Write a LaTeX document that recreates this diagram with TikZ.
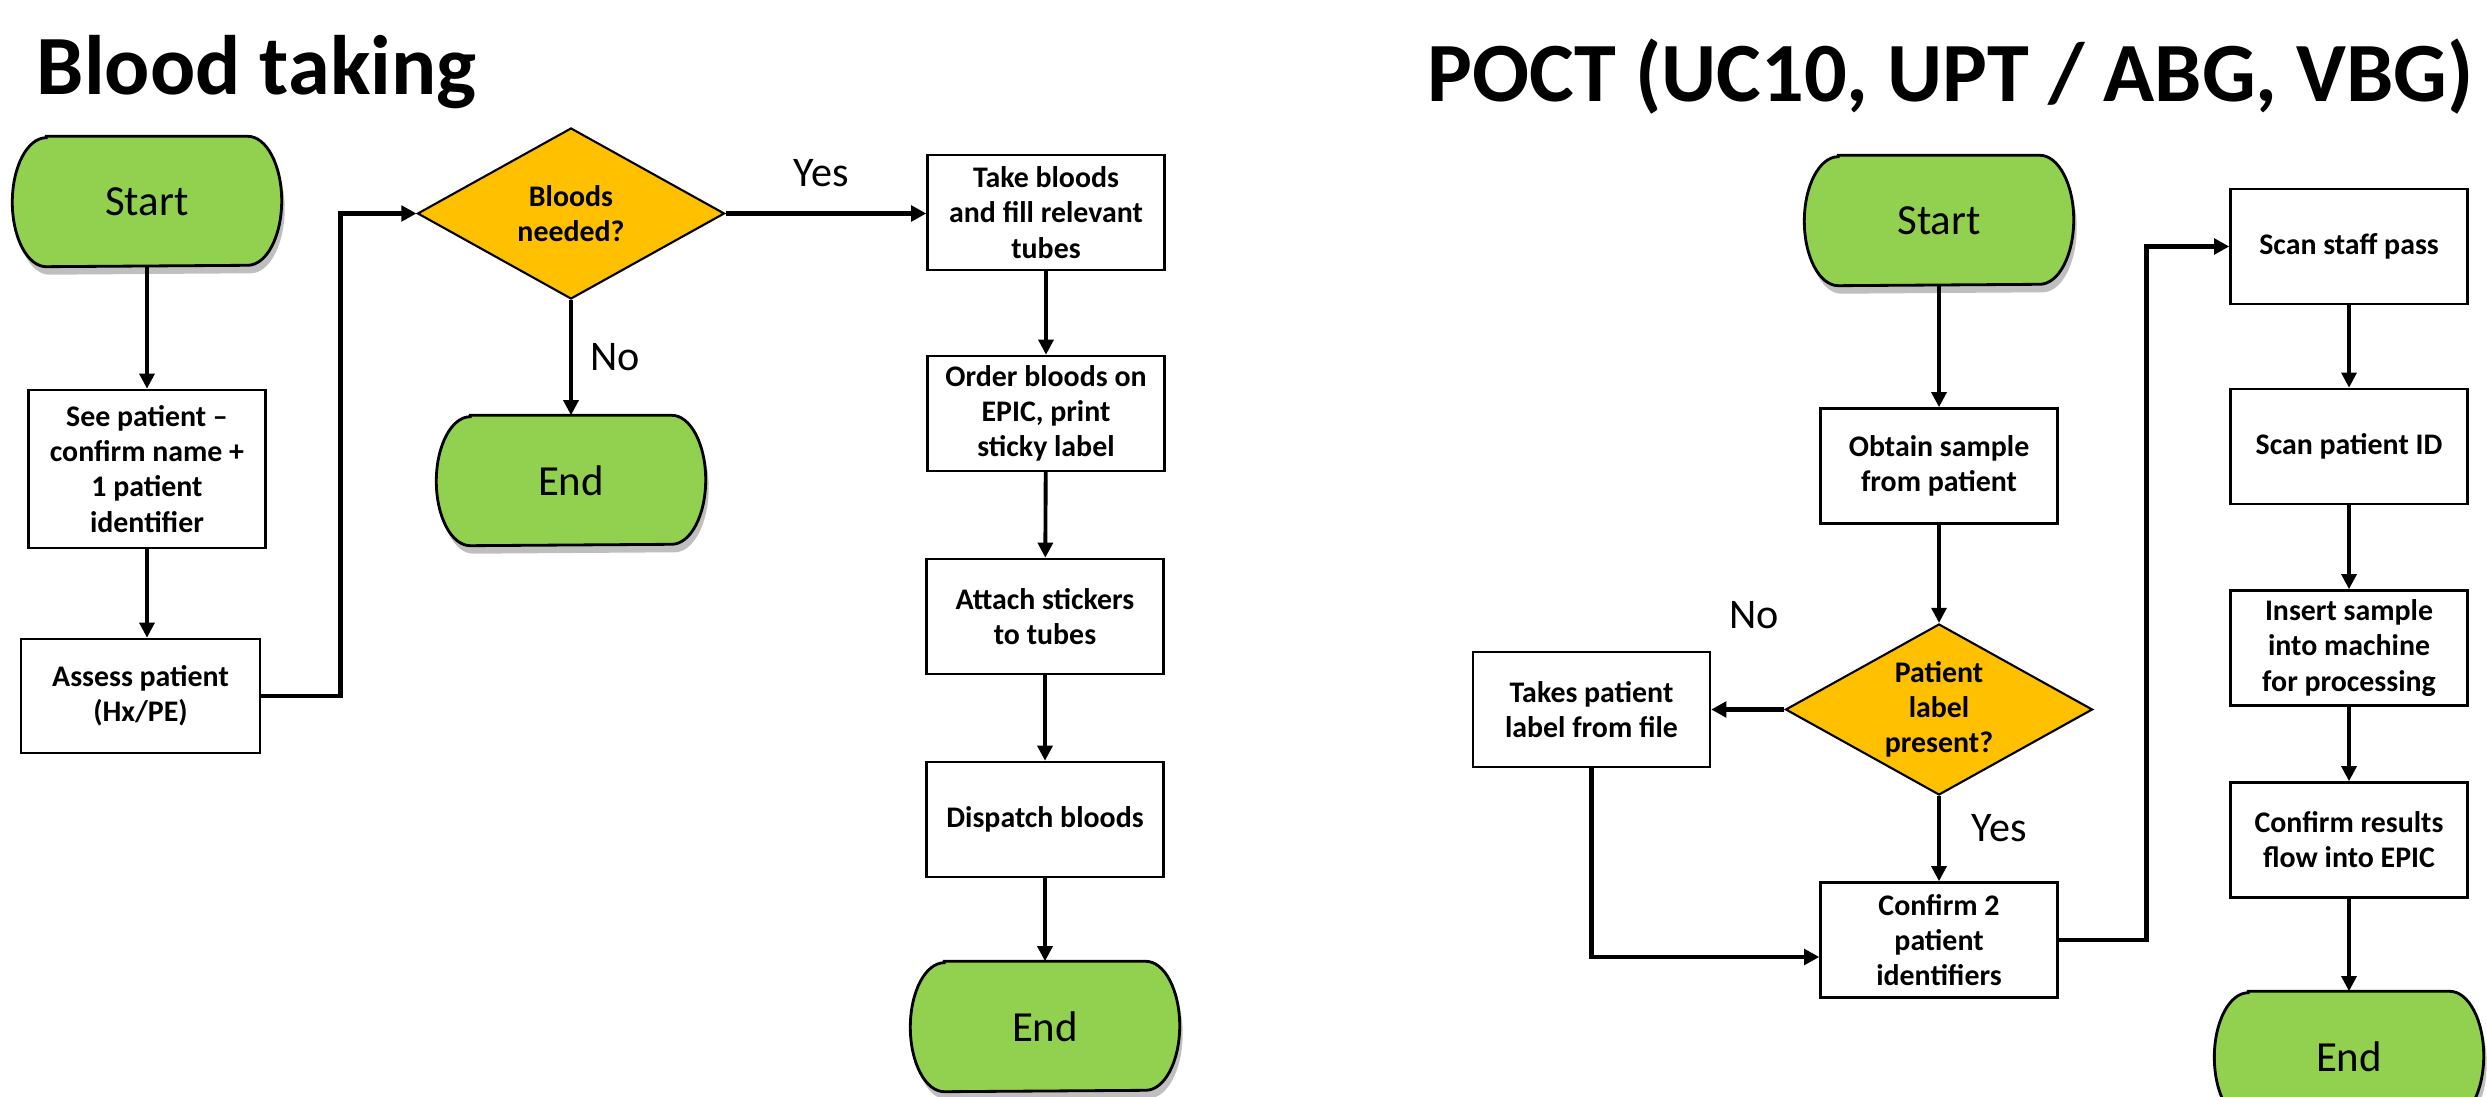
\documentclass[tikz,border=0pt]{standalone}
\usepackage{fontspec}
\setmainfont{Carlito}
\usetikzlibrary{shapes.geometric,shadows,arrows.meta,calc,backgrounds}
\definecolor{termgreen}{HTML}{92D050}
\definecolor{decorange}{HTML}{FFC000}
\newcommand\termshape[1]{%
  \begin{pgfonlayer}{background}
  \draw[termline] ($(#1.north west)+(3.4mm,0)$) -- ($(#1.north east)+(-3.4mm,0)$)
    arc[start angle=90,end angle=-90,x radius=3.4mm,y radius=6.45mm]
    -- ($(#1.south west)+(3.4mm,0)$)
    arc[start angle=270,end angle=90,x radius=3.4mm,y radius=6.45mm] -- cycle;
  \end{pgfonlayer}}
\begin{document}
\begin{tikzpicture}[x=0.1mm,y=-0.1mm,
  box/.style={draw=black, line width=0.7pt, fill=white, minimum width=23.7mm, minimum height=11.5mm, inner sep=1pt, align=center, font=\fontsize{8.5}{10}\selectfont\bfseries},
  term/.style={rectangle, draw=none, minimum width=26.8mm, minimum height=12.9mm, inner sep=0pt, font=\fontsize{12.2}{14}\selectfont},
  termline/.style={draw=black, line width=0.8pt, fill=termgreen, drop shadow={shadow xshift=0.3mm, shadow yshift=-0.8mm, fill=black, opacity=0.25}},
  dec/.style={diamond, aspect=1.8, draw=black, line width=0.6pt, fill=decorange, minimum width=30.7mm, minimum height=17.1mm, inner sep=-1pt, align=center, font=\fontsize{8.5}{10}\selectfont\bfseries},
  conn/.style={line width=1.1pt, -{Triangle[length=4.3pt,width=4.2pt]}},
  elbow/.style={line width=1.3pt, -{Triangle[length=4.3pt,width=4.4pt]}},
  lbl/.style={font=\fontsize{12}{14}\selectfont, inner sep=0pt},
  ttl/.style={font=\fontsize{24}{29}\selectfont\bfseries, anchor=base west, inner sep=0pt}
]
\useasboundingbox (0,0) rectangle (2487,1097);
\clip (0,0) rectangle (2487,1097);

% titles
\node[ttl] (t1) at (36,95) {Blood taking};
\node[ttl] (t2) at (1427,102) {POCT (UC10, UPT / ABG, VBG)};

% left flow
\node[term] (startL) at (147,201.5) {Start};
\termshape{startL}
\node[box, minimum height=15.8mm] (see) at (147,469) {See patient --\\confirm name +\\1 patient\\identifier};
\node[box, minimum width=23.9mm, minimum height=11.4mm] (assess) at (140.5,696) {Assess patient\\(Hx/PE)};
\node[dec] (bloods) at (571,213.5) {Bloods\\needed?};
\node[term] (endM) at (571,480.5) {End};
\termshape{endM}
\node[box] (take) at (1046,212.5) {Take bloods\\and fill relevant\\tubes};
\node[box] (order) at (1046,413.5) {Order bloods on\\EPIC, print\\sticky label};
\node[box] (attach) at (1045,616.5) {Attach stickers\\to tubes};
\node[box] (dispatch) at (1045,819.5) {Dispatch bloods};
\node[term] (endB) at (1045,1026.5) {End};
\termshape{endB}

\node[lbl] (yes1) at (821,173) {Yes};
\node[lbl] (no1) at (615,357) {No};

\draw[conn] (startL) -- (see);
\draw[conn] (see.south) -- (see.south |- assess.north);
\draw[elbow] (assess.east) -- ++(79,0) |- (bloods.west);
\draw[elbow] (bloods.east) -- (bloods.east -| take.west);
\draw[conn] (bloods) -- (endM);
\draw[conn] (take) -- (order);
\draw[conn] (order) -- (attach);
\draw[conn] (attach) -- (dispatch);
\draw[conn] (dispatch) -- (endB);

% right flow
\node[term] (startR) at (1939,220.5) {Start};
\termshape{startR}
\node[box] (obtain) at (1939,466) {Obtain sample\\from patient};
\node[dec] (patient) at (1939,709.5) {Patient\\label\\present?};
\node[box] (takes) at (1591.5,709.5) {Takes patient\\label from file};
\node[box] (confirm) at (1939,940) {Confirm 2\\patient\\identifiers};
\node[box] (scanstaff) at (2349,246.5) {Scan staff pass};
\node[box] (scanpid) at (2349,446.5) {Scan patient ID};
\node[box] (insert) at (2349,648) {Insert sample\\into machine\\for processing};
\node[box] (confres) at (2349,840) {Confirm results\\flow into EPIC};
\node[term] (endR) at (2349,1056.5) {End};
\termshape{endR}

\node[lbl] (no2) at (1754,615) {No};
\node[lbl] (yes2) at (1999,828) {Yes};

\draw[conn] (startR) -- (obtain);
\draw[conn] (obtain) -- (patient);
\draw[elbow] (patient) -- (takes);
\draw[conn] (patient) -- (confirm);
\draw[elbow] (takes.south) |- ($(confirm.west)+(0,17)$);
\draw[elbow] (confirm.east) -- ++(88,0) |- (scanstaff.west);
\draw[conn] (scanstaff) -- (scanpid);
\draw[conn] (scanpid) -- (insert);
\draw[conn] (insert) -- (confres);
\draw[conn] (confres) -- (endR);
\end{tikzpicture}
\end{document}
